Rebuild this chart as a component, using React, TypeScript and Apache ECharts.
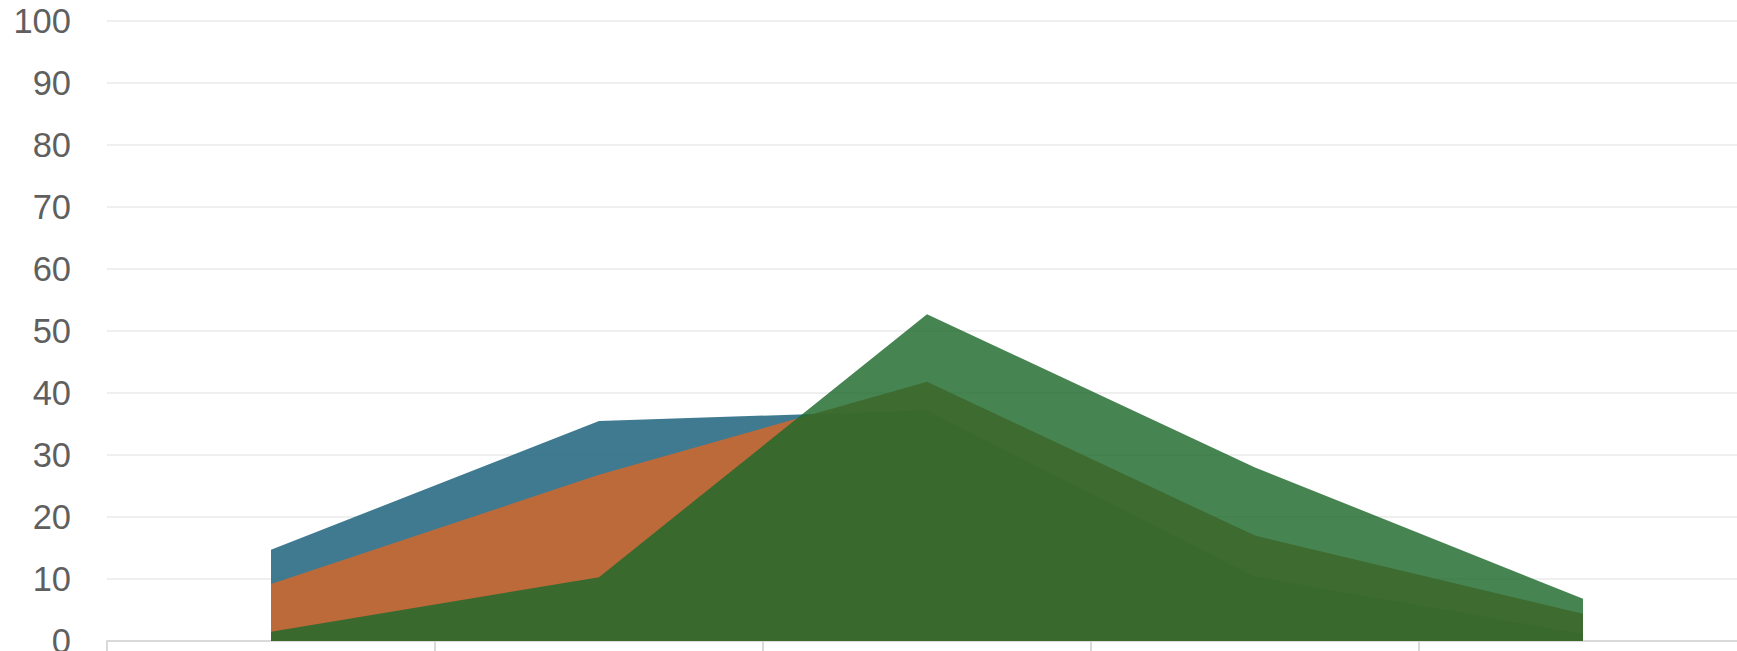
import React, { useEffect, useRef } from "react";
import * as echarts from "echarts";

const categories = ["1", "2", "3", "4", "5"];
const yTicks = [0, 10, 20, 30, 40, 50, 60, 70, 80, 90, 100];
const seriesBlue = [14.7, 35.5, 37.2, 10.4, 1.2];
const seriesOrange = [9.2, 26.8, 41.8, 17.0, 4.4];
const seriesGreen = [1.5, 10.3, 52.7, 28.0, 6.8];

export default function App() {
  const ref = useRef<HTMLDivElement>(null);
  useEffect(() => {
    if (!ref.current) return;
    const chart = echarts.init(ref.current, null, { renderer: "svg" });
    const mk = (name: string, data: number[], color: string, op: number) => ({
      name,
      type: "line",
      data,
      showSymbol: false,
      symbol: "none",
      lineStyle: { width: 0, color, opacity: 0 },
      areaStyle: { color, opacity: op },
      z: 2,
    });
    chart.setOption({
      animation: false,
      backgroundColor: "#ffffff",
      grid: { left: 107, right: 53, top: 21, bottom: 79, containLabel: false },
      xAxis: {
        type: "category",
        data: categories,
        boundaryGap: true,
        axisLine: { show: true, lineStyle: { color: "#d9d9d9", width: 2 } },
        axisTick: { show: true, length: 12, lineStyle: { color: "#d9d9d9", width: 2 } },
        axisLabel: { show: false },
        splitLine: { show: false },
      },
      yAxis: {
        type: "value",
        min: yTicks[0],
        max: yTicks[yTicks.length - 1],
        interval: 10,
        axisLine: { show: false },
        axisTick: { show: false },
        axisLabel: {
          fontSize: 34.5,
          color: "#5f5f5f",
          margin: 36,
          fontFamily: "Liberation Sans, Arial, sans-serif",
        },
        splitLine: { show: true, lineStyle: { color: "#efefef", width: 2 } },
      },
      series: [
        mk("Blue", seriesBlue, "#2a6b85", 0.9),
        mk("Orange", seriesOrange, "#cb6832", 0.9),
        mk("Green", seriesGreen, "#1d692c", 0.82),
      ],
    });
    return () => chart.dispose();
  }, []);
  return (
    <div
      style={{
        position: "fixed",
        left: 0,
        top: 0,
        width: 1737,
        height: 651,
        overflow: "hidden",
        background: "#fff",
      }}
    >
      <div ref={ref} style={{ width: 1800, height: 720 }} />
    </div>
  );
}
